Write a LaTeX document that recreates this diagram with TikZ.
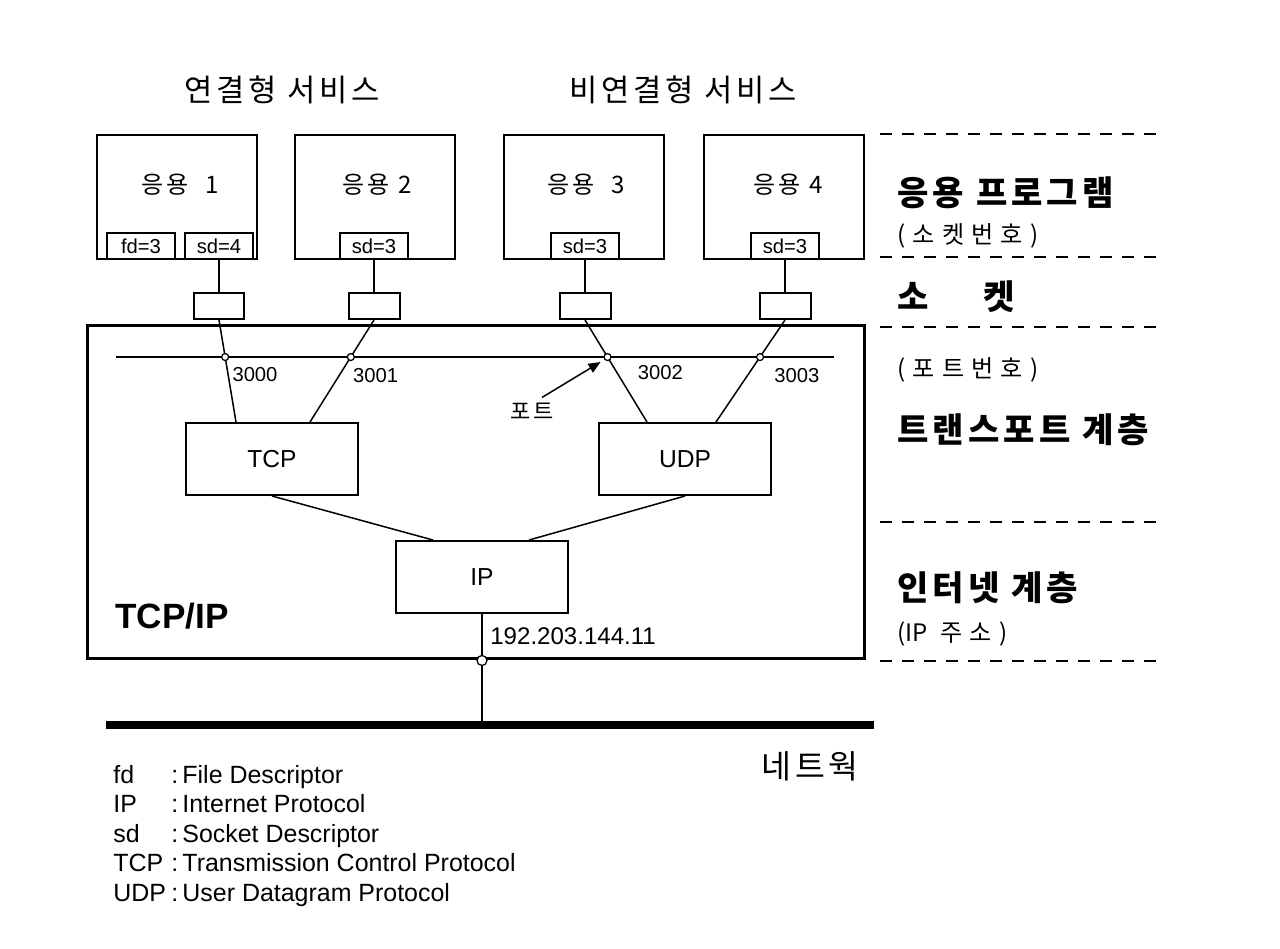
\documentclass[tikz,border=0pt]{standalone}
\usepackage{fontspec}
\setmainfont{Liberation Sans}
\newfontfamily\kr{Noto Sans CJK KR}
\newfontfamily\krw{Noto Sans CJK KR}[LetterSpace=12]
\newfontfamily\krs{Noto Sans CJK KR}[LetterSpace=30]
\usetikzlibrary{arrows.meta, positioning, calc}

\begin{document}
\begin{tikzpicture}[x=0.02cm, y=-0.02cm]
  \tikzset{
    abox/.style={rectangle, draw=black, line width=0.4mm,
                 minimum width=3.2cm, minimum height=2.5cm, inner sep=0pt},
    dbox/.style={rectangle, draw=black, fill=white, line width=0.4mm,
                 minimum width=1.36cm, minimum height=0.52cm, inner sep=0pt,
                 font=\fontsize{11.5}{12}\selectfont},
    sbox/.style={rectangle, draw=black, line width=0.4mm,
                 minimum width=1.02cm, minimum height=0.52cm, inner sep=0pt},
    pbox/.style={rectangle, draw=black, line width=0.4mm,
                 minimum width=3.46cm, minimum height=1.44cm, inner sep=0pt,
                 font=\fontsize{14}{16}\selectfont},
    alabel/.style={inner sep=0pt, font=\krw\fontsize{13.7}{16}\selectfont},
    hlabel/.style={inner sep=0pt, font=\krw\fontsize{17.5}{20}\selectfont},
    llabel/.style={anchor=west, inner sep=0pt, font=\krw\bfseries\fontsize{19.4}{22}\selectfont},
    slabel/.style={anchor=west, inner sep=0pt, font=\krs\fontsize{13.7}{16}\selectfont},
    plabel/.style={anchor=west, inner sep=0pt, font=\fontsize{11.5}{13}\selectfont},
    port/.style={circle, draw=black, fill=white, line width=0.25mm,
                 inner sep=0pt, minimum size=1.4mm},
    conn/.style={line width=0.3mm},
    layer/.style={dash pattern=on 2.4mm off 2mm, line width=0.3mm},
    arr/.style={-{Triangle[length=2.4mm, width=2mm]}, line width=0.3mm}
  }
  \useasboundingbox (0,0) rectangle (1280,948);
  % Service headings
  \node[hlabel] (cserv) at (282,90)  {연결형 서비스};
  \node[hlabel] (lserv) at (683,90)  {비연결형 서비스};
  % Applications
  \node[abox] (app1) at (177,197) {};
  \node[abox] (app2) at (375,197) {};
  \node[abox] (app3) at (584,197) {};
  \node[abox] (app4) at (784,197) {};
  \node[alabel] (name1) at (180,185) {응용\ \ 1};
  \node[alabel] (name2) at (377,185) {응용 2};
  \node[alabel] (name3) at (586,185) {응용\ \ 3};
  \node[alabel] (name4) at (788,185) {응용 4};
  % Descriptors
  \node[dbox] (fd1) at (141,246) {fd=3};
  \node[dbox] (sd1) at (219,246) {sd=4};
  \node[dbox] (sd2) at (374,246) {sd=3};
  \node[dbox] (sd3) at (585,246) {sd=3};
  \node[dbox] (sd4) at (785,246) {sd=3};
  % Sockets
  \node[sbox] (s1) at (219,306) {};
  \node[sbox] (s2) at (374,306) {};
  \node[sbox] (s3) at (585,306) {};
  \node[sbox] (s4) at (785,306) {};
  \foreach \i in {1,2,3,4}
    \draw[conn] (sd\i.south) -- (s\i.north);
  % TCP/IP box
  \node[draw=black, line width=0.6mm, minimum width=15.56cm, minimum height=6.68cm,
        inner sep=0pt] (tcpip) at (476,492) {};
  \node[font=\bfseries\fontsize{20}{24}\selectfont, inner sep=0pt] (tcpiplbl) at (172,616) {TCP/IP};
  % Port line
  \coordinate (pl) at (116,357);
  \coordinate (pr) at (834,357);
  \draw[line width=0.35mm] (pl) -- (pr);
  % Transport and internet
  \node[pbox] (tcp) at (272,459) {TCP};
  \node[pbox] (udp) at (685,459) {UDP};
  \node[pbox] (ip)  at (482,577) {IP};
  \coordinate (t1) at ($(tcp.north)+(-36,0)$);
  \coordinate (t2) at ($(tcp.north)+(38,0)$);
  \coordinate (u1) at ($(udp.north)+(-38,0)$);
  \coordinate (u2) at ($(udp.north)+(31,0)$);
  \foreach \a/\b in {s1/t1,s2/t2,s3/u1,s4/u2}
    \draw[conn] (\a.south) -- (\b);
  \node[port] (p1) at (intersection of s1.south--t1 and pl--pr) {};
  \node[port] (p2) at (intersection of s2.south--t2 and pl--pr) {};
  \node[port] (p3) at (intersection of s3.south--u1 and pl--pr) {};
  \node[port] (p4) at (intersection of s4.south--u2 and pl--pr) {};
  \node[plabel] (n1) at ($(p1)+(7,18)$)  {3000};
  \node[plabel] (n2) at ($(p2)+(2,18)$)  {3001};
  \node[plabel] (n3) at ($(p3)+(30,16)$) {3002};
  \node[plabel] (n4) at ($(p4)+(14,18)$) {3003};
  % Port pointer
  \node[inner sep=0pt, font=\krw\fontsize{12.5}{14}\selectfont] (portlbl) at (532,411) {포트};
  \coordinate (ptip) at ($(p3)+(-7,5)$);
  \draw[arr] ($(portlbl.north)+(10,-5)$) -- (ptip);
  \coordinate (i1) at ($(ip.north)+(-49,0)$);
  \coordinate (i2) at ($(ip.north)+(47,0)$);
  \draw[conn] (tcp.south) -- (i1);
  \draw[conn] (udp.south) -- (i2);
  % Network
  \coordinate (busl) at (106,725);
  \coordinate (busr) at (874,725);
  \draw[line width=1.6mm] (busl) -- (busr);
  \coordinate (tap) at (ip.south |- busl);
  \draw[line width=0.4mm] (ip.south) -- (tap);
  \node[port, minimum size=2mm] (ipport) at (ip.south |- tcpip.south) {};
  \node[anchor=west, inner sep=0pt, font=\fontsize{13.7}{16}\selectfont] (ipaddr) at (490,636) {192.203.144.11};
  \node[inner sep=0pt, font=\krw\fontsize{18.5}{20}\selectfont] (net) at (810,766) {네트웍};
  % Layers
  \foreach \y in {134,257,327,522,661}
    \draw[layer] (880,\y) -- (1162,\y);
  \node[llabel] (lapp)  at (897,193) {응용 프로그램};
  \node[slabel] (lsno)  at (897,236) {(소켓번호)};
  \node[llabel] (lsock) at (897,297) {소\hspace{11mm}켓};
  \node[slabel] (lpno)  at (897,370) {(포트번호)};
  \node[llabel] (ltr)   at (897,430) {트랜스포트 계층};
  \node[llabel] (lnet)  at (897,588) {인터넷 계층};
  \node[slabel] (laddr) at (897,634) {(\kr IP\krs{} 주소)};
  % Legend
  \node[anchor=north west, inner sep=0pt, font=\fontsize{14.2}{16.8}\selectfont] (legend) at (113,762)
    {\begin{tabular}{@{}p{11.6mm}@{}l@{}}
      fd  & :\,File Descriptor\\
      IP  & :\,Internet Protocol\\
      sd  & :\,Socket Descriptor\\
      TCP & :\,Transmission Control Protocol\\
      UDP & :\,User Datagram Protocol
    \end{tabular}};
\end{tikzpicture}
\end{document}
